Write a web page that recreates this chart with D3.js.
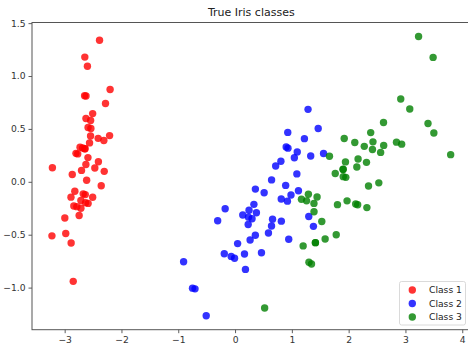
<!DOCTYPE html>
<html>
<head>
<meta charset="utf-8">
<script src="https://cdn.jsdelivr.net/npm/d3@7"></script>
<style>
  body { margin: 0; background: #fff; }
  svg { display: block; font-family: "DejaVu Sans", sans-serif; }
</style>
</head>
<body>
<script>
// class labels and colours
const classNames = ['Class 1', 'Class 2', 'Class 3'];
const classColors = ['red', 'blue', 'green'];

// PCA projection (pc1, pc2) of each class
const class1 = [
  [-2.684, 0.319], [-2.714, -0.177], [-2.889, -0.145], [-2.745, -0.318], [-2.729, 0.327],
  [-2.281, 0.741], [-2.821, -0.089], [-2.626, 0.163], [-2.886, -0.578], [-2.673, -0.114],
  [-2.507, 0.645], [-2.613, 0.015], [-2.786, -0.235], [-3.224, -0.511], [-2.645, 1.179],
  [-2.386, 1.338], [-2.624, 0.811], [-2.648, 0.312], [-2.200, 0.873], [-2.588, 0.514],
  [-2.310, 0.391], [-2.544, 0.433], [-3.216, 0.133], [-2.303, 0.099], [-2.356, -0.037],
  [-2.507, -0.146], [-2.469, 0.131], [-2.562, 0.368], [-2.640, 0.312], [-2.632, -0.197],
  [-2.587, -0.204], [-2.410, 0.411], [-2.649, 0.813], [-2.599, 1.093], [-2.637, -0.121],
  [-2.866, 0.069], [-2.625, 0.599], [-2.801, 0.269], [-2.981, -0.488], [-2.590, 0.229],
  [-2.770, 0.264], [-2.849, -0.941], [-2.997, -0.342], [-2.406, 0.189], [-2.209, 0.437],
  [-2.714, -0.250], [-2.538, 0.504], [-2.839, -0.228], [-2.543, 0.579], [-2.703, 0.108]
];
const class2 = [
  [1.285, 0.685], [0.932, 0.318], [1.464, 0.504], [0.183, -0.828], [1.088, 0.075],
  [0.642, -0.418], [1.095, 0.283], [-0.749, -1.005], [1.044, 0.228], [-0.009, -0.723],
  [-0.508, -1.266], [0.512, -0.104], [0.265, -0.550], [0.985, -0.125], [-0.174, -0.255],
  [0.928, 0.467], [0.660, -0.353], [0.236, -0.334], [0.945, -0.543], [0.045, -0.584],
  [1.116, -0.085], [0.358, -0.069], [1.298, -0.328], [0.922, -0.183], [0.715, 0.149],
  [0.900, 0.329], [1.332, 0.244], [1.558, 0.267], [0.813, -0.163], [-0.306, -0.368],
  [-0.068, -0.705], [-0.190, -0.680], [0.136, -0.314], [1.380, -0.421], [0.588, -0.484],
  [0.807, 0.194], [1.221, 0.408], [0.815, -0.372], [0.246, -0.269], [0.166, -0.682],
  [0.465, -0.671], [0.891, -0.034], [0.231, -0.404], [-0.705, -1.012], [0.357, -0.505],
  [0.332, -0.213], [0.376, -0.293], [0.643, 0.018], [-0.906, -0.756], [0.299, -0.349]
];
const class3 = [
  [2.531, -0.010], [1.415, -0.575], [2.617, 0.344], [1.972, -0.180], [2.350, -0.040],
  [3.397, 0.551], [0.521, -1.193], [2.933, 0.356], [2.321, -0.244], [2.917, 0.783],
  [1.662, 0.242], [1.803, -0.216], [2.166, 0.216], [1.346, -0.777], [1.586, -0.540],
  [1.904, 0.119], [1.950, 0.042], [3.487, 1.176], [3.796, 0.257], [1.301, -0.761],
  [2.428, 0.378], [1.199, -0.606], [3.500, 0.461], [1.389, -0.204], [2.275, 0.335],
  [2.614, 0.561], [1.259, -0.180], [1.291, -0.117], [2.124, -0.210], [2.388, 0.465],
  [2.842, 0.375], [3.231, 1.374], [2.159, -0.217], [1.444, -0.143], [1.781, -0.500],
  [3.076, 0.688], [2.144, 0.140], [1.905, 0.049], [1.169, -0.165], [2.108, 0.372],
  [2.314, 0.184], [1.922, 0.409], [1.415, -0.575], [2.563, 0.278], [2.419, 0.305],
  [1.944, 0.188], [1.527, -0.375], [1.764, 0.079], [1.901, 0.117], [1.390, -0.283]
];
const classPoints = [class1, class2, class3];

// tick labels
const xTicks = [-3, -2, -1, 0, 1, 2, 3, 4];
const yTicks = [-1.0, -0.5, 0.0, 0.5, 1.0, 1.5];

const svgDims = { width: 468, height: 346 };
const margin = { top: 22.5, left: 32 };
const plotW = 438.6;
const plotH = 307.2;

const svg = d3.select('body').append('svg')
  .attr('width', svgDims.width)
  .attr('height', svgDims.height);

const graph = svg.append('g')
  .attr('transform', `translate(${margin.left},${margin.top})`);

// matplotlib style 5% margins around the data
const allPts = classPoints.flat();
const xExt = d3.extent(allPts, d => d[0]);
const yExt = d3.extent(allPts, d => d[1]);
const xPad = (xExt[1] - xExt[0]) * 0.05;
const yPad = (yExt[1] - yExt[0]) * 0.05;

const x = d3.scaleLinear()
  .domain([xExt[0] - xPad, xExt[1] + xPad])
  .range([0, plotW]);
const y = d3.scaleLinear()
  .domain([yExt[0] - yPad, yExt[1] + yPad])
  .range([plotH, 0]);

// points, one group per class
classPoints.forEach((pts, i) => {
  graph.append('g')
    .selectAll('circle')
    .data(pts)
    .enter()
    .append('circle')
    .attr('cx', d => x(d[0]))
    .attr('cy', d => y(d[1]))
    .attr('r', 3.7)
    .attr('fill', classColors[i])
    .attr('fill-opacity', 0.8);
});

// axes
const xAxis = d3.axisBottom(x)
  .tickValues(xTicks)
  .tickSize(3.5)
  .tickPadding(3)
  .tickFormat(d3.format('d'));
const yAxis = d3.axisLeft(y)
  .tickValues(yTicks)
  .tickSize(3.5)
  .tickPadding(3)
  .tickFormat(d3.format('.1f'));

const xAxisGroup = graph.append('g')
  .attr('transform', `translate(0,${plotH})`)
  .call(xAxis);
const yAxisGroup = graph.append('g')
  .call(yAxis);

[xAxisGroup, yAxisGroup].forEach(g => {
  g.select('.domain').remove();
  g.selectAll('line').attr('stroke', '#333').attr('stroke-width', 0.8);
  g.selectAll('text')
    .attr('fill', '#333')
    .style('font-size', '9.2px')
    .style('font-family', '"DejaVu Sans", sans-serif');
});

// frame
graph.append('rect')
  .attr('x', 0)
  .attr('y', 0)
  .attr('width', plotW)
  .attr('height', plotH)
  .attr('fill', 'none')
  .attr('stroke', '#555')
  .attr('stroke-width', 1);

// title
svg.append('text')
  .attr('x', margin.left + plotW / 2)
  .attr('y', 16)
  .attr('text-anchor', 'middle')
  .attr('fill', '#222')
  .style('font-size', '11px')
  .text('True Iris classes');

// legend
const legend = svg.append('g')
  .attr('transform', 'translate(399.5,281.5)');
legend.append('rect')
  .attr('width', 66)
  .attr('height', 43.5)
  .attr('rx', 2)
  .attr('fill', 'white')
  .attr('fill-opacity', 0.8)
  .attr('stroke', '#d0d0d0')
  .attr('stroke-width', 0.8);

const rows = legend.selectAll('g.row')
  .data(classNames)
  .enter()
  .append('g')
  .attr('class', 'row')
  .attr('transform', (d, i) => `translate(0,${8.5 + i * 13.5})`);
rows.append('circle')
  .attr('cx', 12.8)
  .attr('cy', 0)
  .attr('r', 3.7)
  .attr('fill', (d, i) => classColors[i])
  .attr('fill-opacity', 0.8);
rows.append('text')
  .attr('x', 29.5)
  .attr('y', 3.3)
  .attr('fill', '#222')
  .style('font-size', '9.2px')
  .text(d => d);
</script>
</body>
</html>
